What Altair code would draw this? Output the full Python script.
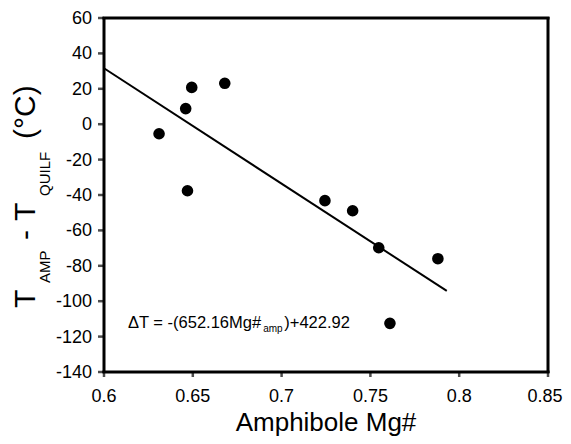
import altair as alt
import pandas as pd

# data
mg_amp = [0.631, 0.646, 0.6494, 0.668, 0.647, 0.7244, 0.740, 0.7547, 0.788, 0.761]
delta_t = [-5.4, 8.8, 20.8, 23.1, -37.6, -43.2, -48.9, -69.8, -76.0, -112.5]

fit_x = [0.6, 0.793]
fit_y = [31.6, -94.2]

x_ticks = [0.6, 0.65, 0.7, 0.75, 0.8, 0.85]
x_labels = ["0.6", "0.65", "0.7", "0.75", "0.8", "0.85"]
y_ticks = [-140, -120, -100, -80, -60, -40, -20, 0, 20, 40, 60]
y_labels = ["-140", "-120", "-100", "-80", "-60", "-40", "-20", "0", "20", "40", "60"]

FONT = "Liberation Sans"
W, H = 444, 354

pts = pd.DataFrame({"mg": mg_amp, "dt": delta_t})
fit = pd.DataFrame({"mg": fit_x, "dt": fit_y})
xt = pd.DataFrame({"v": x_ticks, "t": x_labels})
yt = pd.DataFrame({"v": y_ticks, "t": y_labels})

xscale = alt.Scale(domain=[0.6, 0.85], nice=False, zero=False)
yscale = alt.Scale(domain=[-140, 60], nice=False, zero=False)

points = alt.Chart(pts).mark_circle(size=135, color="black", opacity=1).encode(
    x=alt.X("mg:Q", scale=xscale, axis=None),
    y=alt.Y("dt:Q", scale=yscale, axis=None),
)

line = alt.Chart(fit).mark_line(color="black", strokeWidth=2).encode(
    x=alt.X("mg:Q", scale=xscale, axis=None),
    y=alt.Y("dt:Q", scale=yscale, axis=None),
)

# plot frame (filled thin rectangles)
frame_sides = [(-1.5, 1.5, -1, H + 1), (W - 1.5, W + 1.5, -1, H + 1),
               (-1.5, W + 1.5, -1.5, 1.5), (-1.5, W + 1.5, H - 1.5, H + 1.5)]
frame = [
    alt.Chart(pd.DataFrame({"k": [0]})).mark_rect(color="black").encode(
        x=alt.value(a), x2=alt.value(b), y=alt.value(c), y2=alt.value(d))
    for a, b, c, d in frame_sides
]

# tick marks
yticks = alt.Chart(yt).mark_tick(color="black", thickness=2.5, size=6, orient="horizontal").encode(
    y=alt.Y("v:Q", scale=yscale, axis=None), x=alt.value(-3))
xticks = alt.Chart(xt).mark_tick(color="black", thickness=2.5, size=6, orient="vertical").encode(
    x=alt.X("v:Q", scale=xscale, axis=None), y=alt.value(H + 2))

# tick labels
ylabels = alt.Chart(yt).mark_text(font=FONT, fontSize=18, align="right",
                                  baseline="middle", color="black", dy=1).encode(
    y=alt.Y("v:Q", scale=yscale, axis=None), x=alt.value(-12), text="t:N")

def xlabel_layer(df, shift):
    return alt.Chart(df).mark_text(font=FONT, fontSize=18, align="center",
                                   baseline="alphabetic", color="black", dx=shift).encode(
        x=alt.X("v:Q", scale=xscale, axis=None), y=alt.value(H + 30), text="t:N")

xlabels = [xlabel_layer(xt.iloc[:-1], 0), xlabel_layer(xt.iloc[-1:], -3)]

xtitle = alt.Chart(pd.DataFrame({"t": ["Amphibole Mg#"]})).mark_text(
    font=FONT, fontSize=26, align="center", baseline="alphabetic", color="black").encode(
    x=alt.value(W / 2), y=alt.value(H + 59), text="t:N")

# equation annotation (anchored in data coordinates)
eq_main = pd.DataFrame({"mg": [0.6135], "dt": [-115.4], "t": ["ΔT = -(652.16Mg#"]})
eq_sub = pd.DataFrame({"mg": [0.6896], "dt": [-117.4], "t": ["amp"]})
eq_end = pd.DataFrame({"mg": [0.7015], "dt": [-115.4], "t": [")+422.92"]})

def eq_text(df, size):
    return alt.Chart(df).mark_text(font=FONT, fontSize=size, align="left",
                                   baseline="alphabetic", color="black").encode(
        x=alt.X("mg:Q", scale=xscale, axis=None),
        y=alt.Y("dt:Q", scale=yscale, axis=None), text="t:N")

eq = [eq_text(eq_main, 16.5), eq_text(eq_sub, 10), eq_text(eq_end, 16.5)]

# rotated y-axis title with subscripts
title_parts = [
    ("T", 30, -69, 290, "left"),
    ("AMP", 15, -54, 265, "left"),
    ("-", 30, -69, 217, "center"),
    ("T", 30, -69, 203, "left"),
    ("QUILF", 15, -54, 178, "left"),
    ("(°C)", 30, -69, 121, "left"),
]
ytitle_layers = []
for txt, size, px, py, al in title_parts:
    ytitle_layers.append(
        alt.Chart(pd.DataFrame({"t": [txt]})).mark_text(
            font=FONT, fontSize=size, angle=270, align=al, baseline="alphabetic",
            color="black").encode(x=alt.value(px), y=alt.value(py), text="t:N")
    )

chart = alt.layer(line, points, *frame, yticks, xticks, ylabels, *xlabels, xtitle,
                  *eq, *ytitle_layers).properties(
    width=W, height=H,
    background="white",
    autosize=alt.AutoSizeParams(type="none"),
    padding={"left": 96, "top": 10, "right": 15, "bottom": 64},
).configure_view(stroke=None)

chart.save("out.html", embed_options={"renderer": "svg", "actions": False})
